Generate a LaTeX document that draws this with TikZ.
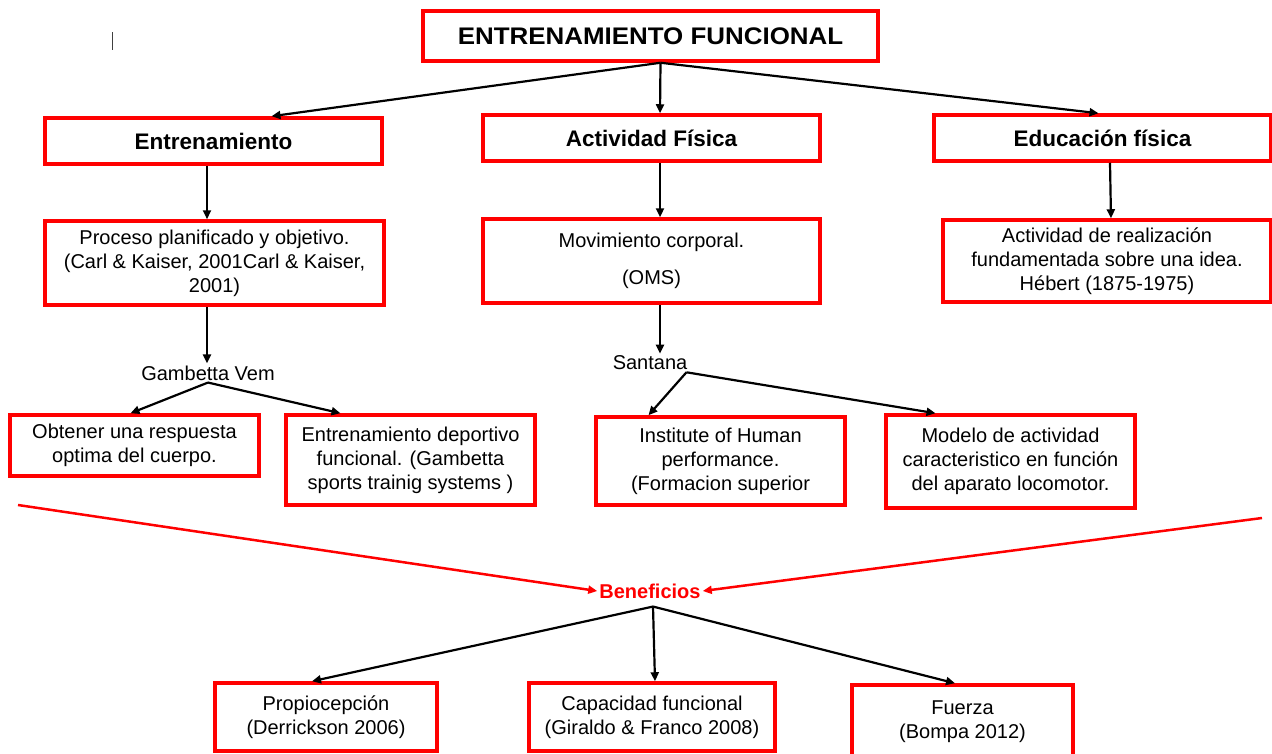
\documentclass[tikz,border=0pt]{standalone}
\usepackage{fontspec}
\setmainfont{Liberation Sans}
\newfontfamily\titlefont[FakeStretch=1.08]{Liberation Sans}
\usepackage{tikz}
\usetikzlibrary{arrows.meta,positioning}
\begin{document}
\begin{tikzpicture}[x=1pt,y=-1pt,
  box/.style={rectangle, draw=red, line width=3.5pt, fill=white,
              align=center, inner sep=2pt,
              font=\fontsize{20}{24}\selectfont},
  headbox/.style={box, font=\bfseries\fontsize{22.5}{26}\selectfont},
  plain/.style={align=center, inner sep=2pt,
              font=\fontsize{20}{24}\selectfont},
  arr/.style={-{Triangle[length=9pt,width=8pt]}, line width=2.2pt},
  redarr/.style={-{Triangle[length=9pt,width=8pt]}, line width=2.5pt, red},
]
  \clip (0,0) rectangle (1272,753);
  \fill[white] (0,0) rectangle (1272,753);
  \draw[line width=0.8pt, black!75] (112,32) -- (112,50);

  \node[box, minimum width=455pt, minimum height=50pt,
        font=\titlefont\bfseries\fontsize{24}{28}\selectfont] (title) at (650.5,36)
    {ENTRENAMIENTO FUNCIONAL};

  \node[headbox, minimum width=337pt, minimum height=46pt] (entren) at (213.5,141) {Entrenamiento};
  \node[headbox, minimum width=337pt, minimum height=46pt] (actfis) at (651.5,138) {Actividad Física};
  \node[headbox, minimum width=337pt, minimum height=46pt] (edufis) at (1102.5,138) {Educación física};

  \node[box, minimum width=339pt, minimum height=84pt] (proceso) at (214.5,263)
    {Proceso planificado y objetivo.\\(Carl \& Kaiser, 2001Carl \& Kaiser,\\2001)};
  \node[box, minimum width=337pt, minimum height=84pt] (movim) at (651.5,261)
    {Movimiento corporal.\\[13pt](OMS)};
  \node[box, minimum width=328pt, minimum height=82pt] (realiz) at (1107,261)
    {Actividad de realización\\fundamentada sobre una idea.\\Hébert (1875-1975)};

  \node[plain] (gambetta) at (208,373) {Gambetta Vem};
  \node[plain] (santana) at (650,363) {Santana};

  \node[box, minimum width=249pt, minimum height=61pt] (obtener) at (134.5,445.5)
    {Obtener una respuesta\\optima del cuerpo.};
  \node[box, minimum width=249pt, minimum height=90pt] (entdep) at (410.5,460)
    {Entrenamiento deportivo\\funcional. (Gambetta\\sports trainig systems )};
  \node[box, minimum width=249pt, minimum height=88pt] (institute) at (720.5,461)
    {Institute of Human\\performance.\\(Formacion superior};
  \node[box, minimum width=249pt, minimum height=93pt] (modelo) at (1010.5,461.5)
    {Modelo de actividad\\caracteristico en función\\del aparato locomotor.};

  \node[plain, text=red, font=\bfseries\fontsize{20}{24}\selectfont] (benef) at (650,591) {Beneficios};

  \node[box, minimum width=222pt, minimum height=68pt] (propio) at (326,717)
    {Propiocepción\\(Derrickson 2006)};
  \node[box, minimum width=246pt, minimum height=68pt] (capac) at (652,717)
    {Capacidad funcional\\(Giraldo \& Franco 2008)};
  \node[box, minimum width=221pt, minimum height=73pt] (fuerza) at (962.5,721.5)
    {Fuerza\\(Bompa 2012)};

  \coordinate (lfree) at (18,505);
  \coordinate (rfree) at (1262,518);

  \draw[arr] ([xshift=10pt]title.south) -- ([xshift=58pt]entren.north);
  \draw[arr] ([xshift=10pt]title.south) -- ([xshift=8.5pt]actfis.north);
  \draw[arr] ([xshift=10pt]title.south) -- ([xshift=-4pt]edufis.north);

  \draw[arr] ([xshift=-6.5pt]entren.south) -- ([xshift=-7.5pt]proceso.north);
  \draw[arr] ([xshift=8.5pt]actfis.south) -- ([xshift=8.5pt]movim.north);
  \draw[arr] ([xshift=7.5pt]edufis.south) -- ([xshift=4pt]realiz.north);

  \draw[arr] ([xshift=-7.5pt]proceso.south) -- ([xshift=-1pt]gambetta.north);
  \draw[arr] ([xshift=8.5pt]movim.south) -- ([xshift=10pt]santana.north);

  \draw[arr] (gambetta.south) -- ([xshift=-4pt]obtener.north);
  \draw[arr] (gambetta.south) -- ([xshift=-70pt]entdep.north);
  \draw[arr] ([xshift=-3pt]santana.south east) -- ([xshift=-72pt]institute.north);
  \draw[arr] ([xshift=-3pt]santana.south east) -- ([xshift=-75pt]modelo.north);

  \draw[redarr] (lfree) -- (benef.west);
  \draw[redarr] (rfree) -- (benef.east);

  \draw[arr] ([xshift=3pt,yshift=-6pt]benef.south) -- ([xshift=-14pt]propio.north);
  \draw[arr] ([xshift=3pt,yshift=-6pt]benef.south) -- ([xshift=3pt]capac.north);
  \draw[arr] ([xshift=3pt,yshift=-6pt]benef.south) -- ([xshift=-7.5pt]fuerza.north);
\end{tikzpicture}
\end{document}
